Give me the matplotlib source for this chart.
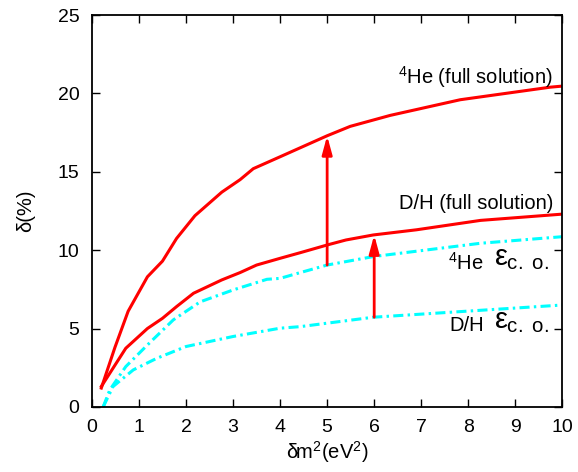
import numpy as np
import matplotlib.pyplot as plt

plt.rcParams['font.family'] = ['Liberation Sans', 'DejaVu Sans']
plt.rcParams['mathtext.fontset'] = 'custom'
plt.rcParams['mathtext.rm'] = 'Liberation Sans'
plt.rcParams['mathtext.it'] = 'Liberation Sans'

# He-4 full solution
he_full_x = [0.2, 0.49, 0.77, 1.18, 1.5, 1.8, 2.19, 2.76, 3.15, 3.43, 4.0, 5.0, 5.49, 6.34, 7.83, 9.74, 10.0]
he_full_y = [1.2, 3.8, 6.1, 8.3, 9.3, 10.75, 12.2, 13.7, 14.5, 15.2, 15.96, 17.3, 17.9, 18.6, 19.6, 20.4, 20.47]

# D/H full solution
dh_full_x = [0.2, 0.72, 1.18, 1.5, 1.8, 2.16, 2.76, 3.15, 3.5, 4.0, 4.43, 5.0, 5.4, 5.98, 6.9, 8.26, 10.0]
dh_full_y = [1.3, 3.74, 5.0, 5.65, 6.4, 7.25, 8.1, 8.57, 9.05, 9.48, 9.84, 10.33, 10.65, 10.97, 11.3, 11.9, 12.3]

# He-4 epsilon c.o.
he_co_x = [0.24, 0.38, 0.72, 1.18, 1.73, 2.3, 3.0, 3.72, 4.0, 4.43, 5.0, 5.98, 8.26, 10.0]
he_co_y = [0.0, 1.08, 2.57, 3.95, 5.55, 6.7, 7.46, 8.14, 8.2, 8.57, 9.05, 9.59, 10.44, 10.86]

# D/H epsilon c.o.
dh_co_x = [0.24, 0.45, 0.88, 1.38, 2.0, 3.0, 4.0, 4.43, 5.98, 10.0]
dh_co_y = [0.0, 1.3, 2.36, 3.1, 3.85, 4.49, 5.02, 5.12, 5.72, 6.5]

# arrows: x, from, to
arrow_x = [5, 6]
arrow_y0 = [9.05, 5.72]
arrow_y1 = [17.3, 10.97]

fig, ax = plt.subplots(figsize=(5.78, 4.72), dpi=100)
fig.subplots_adjust(left=0.159, right=0.973, top=0.968, bottom=0.138)

dash = (3.3, 1.4, 0.8, 1.4)
ax.plot(he_full_x, he_full_y, color='red', lw=2.2)
ax.plot(dh_full_x, dh_full_y, color='red', lw=2.2)
ax.plot(he_co_x, he_co_y, color='cyan', lw=2.2, dashes=dash)
ax.plot(dh_co_x, dh_co_y, color='cyan', lw=2.2, dashes=dash)

for xa, y0, y1 in zip(arrow_x, arrow_y0, arrow_y1):
    ax.annotate('', xy=(xa, y1), xytext=(xa, y0),
                arrowprops=dict(arrowstyle='-|>,head_length=1.1,head_width=0.3',
                                color='red', lw=2, shrinkA=0, shrinkB=0))

fs = 14.5
ax.text(9.8, 21.05, r'$^4$He (full solution)', ha='right', va='center', fontsize=fs)
ax.text(9.8, 13.0, 'D/H (full solution)', ha='right', va='center', fontsize=fs)
ax.text(8.33, 9.18, r'$^4$He', ha='right', va='center', fontsize=fs)
ax.text(8.33, 5.17, 'D/H', ha='right', va='center', fontsize=fs)
ax.text(8.55, 9.5, r'$\varepsilon_{\mathrm{c.\ o.}}$', ha='left', va='center', fontsize=21)
ax.text(8.55, 5.49, r'$\varepsilon_{\mathrm{c.\ o.}}$', ha='left', va='center', fontsize=21)

ax.set_xlim(0, 10)
ax.set_ylim(0, 25)
ax.set_xticks(range(0, 11))
ax.set_yticks(range(0, 26, 5))
ax.tick_params(direction='in', top=True, right=True, length=6, width=1, labelsize=14)
ax.tick_params(axis='x', pad=9)
ax.tick_params(axis='y', pad=9)
for s in ax.spines.values():
    s.set_linewidth(1.3)
ax.set_xlabel(r'δm$^2$(eV$^2$)', fontsize=14.5, labelpad=2)
ax.set_ylabel('δ(%)', fontsize=14.5, labelpad=16)

fig.savefig('out.png', dpi=100)
